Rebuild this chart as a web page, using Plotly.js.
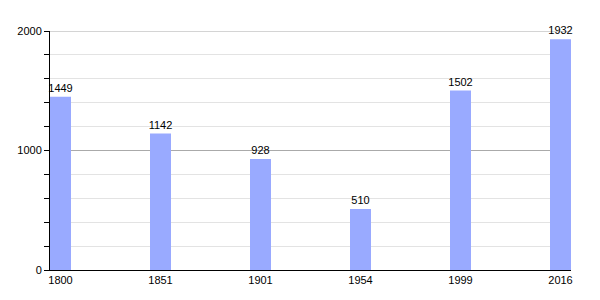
<!DOCTYPE html>
<html>
<head>
<meta charset="utf-8">
<script src="https://cdn.plot.ly/plotly-3.0.1.min.js"></script>
<style>html,body{margin:0;padding:0;background:#fff}#chart{width:600px;height:300px}</style>
</head>
<body>
<div id="chart"></div>
<script>
const years = ["1800", "1851", "1901", "1954", "1999", "2016"];
const population = [1449, 1142, 928, 510, 1502, 1932];
const yTickVals = [0, 1000, 2000];

const idx = years.map((_, i) => i);
const yMax = yTickVals[yTickVals.length - 1];

Plotly.newPlot('chart', [{
  type: 'bar',
  x: idx,
  y: population,
  width: 0.21,
  marker: {color: '#99aaff'},
  text: population.map(String),
  textposition: 'outside',
  constraintext: 'none',
  cliponaxis: false,
  textfont: {family: 'Liberation Sans, Arial, sans-serif', size: 11, color: '#000'},
  hoverinfo: 'skip'
}], {
  width: 600, height: 300,
  margin: {l: 50, r: 29, t: 31, b: 30},
  paper_bgcolor: '#fff', plot_bgcolor: '#fff',
  showlegend: false,
  font: {family: 'Liberation Sans, Arial, sans-serif', size: 11, color: '#000'},
  shapes: [{
    type: 'line', xref: 'paper', yref: 'y', x0: 0, x1: 1, y0: yMax, y1: yMax,
    line: {color: '#aaaaaa', width: 1}, layer: 'below'
  }],
  xaxis: {
    range: [-0.105, 5.105],
    tickvals: idx,
    ticktext: years,
    showgrid: false,
    zeroline: false,
    showline: true, linecolor: '#000', linewidth: 1,
    ticks: '', ticklen: 0,
    fixedrange: true
  },
  yaxis: {
    range: [0, yMax],
    tickvals: yTickVals,
    showgrid: true, gridcolor: '#aaaaaa', gridwidth: 1,
    zeroline: false,
    showline: true, linecolor: '#000', linewidth: 1,
    ticks: 'outside', ticklen: 5, tickcolor: '#000',
    minor: {dtick: 200, showgrid: true, gridcolor: '#e3e3e3', ticks: 'outside', ticklen: 5, tickcolor: '#000'},
    fixedrange: true
  }
}, {displayModeBar: false, staticPlot: true});
</script>
</body>
</html>
